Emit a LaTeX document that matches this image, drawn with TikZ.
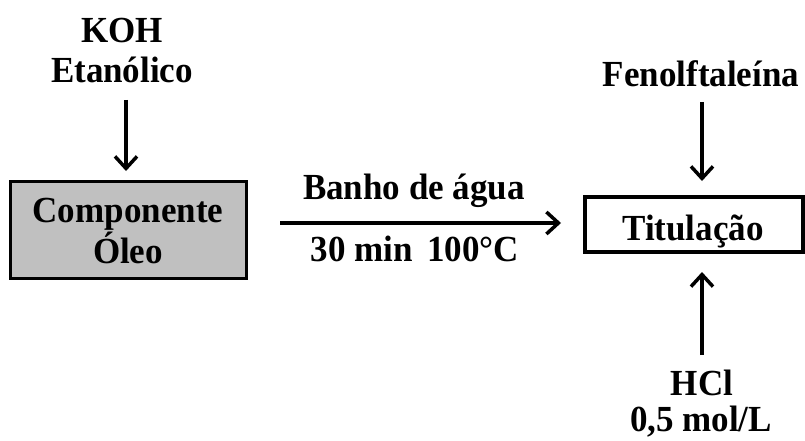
\documentclass[tikz,border=0pt]{standalone}
\usepackage{fontspec}
\setmainfont{Liberation Serif}
\usetikzlibrary{arrows.meta}
\newcommand{\tallt}[1]{\scalebox{1}[1.05]{#1}}
\begin{document}
\begin{tikzpicture}[x=1pt,y=-1pt,
  lbl/.style={font=\fontsize{35}{40}\selectfont\bfseries, inner sep=0pt, anchor=base},
  arr/.style={line width=3.5pt, -{Straight Barb[length=12pt,width=22pt,line width=3.5pt]}},
  box/.style={draw, line width=3.5pt, inner sep=0pt}]
\useasboundingbox (0,0) rectangle (805,441);
\node[lbl] (koh) at (122,43) {\tallt{KOH}};
\node[lbl] (eta) at (122,83) {\tallt{Etanólico}};
\node[box, fill={rgb,255:red,192;green,192;blue,192}, minimum width=236pt, minimum height=97pt] (comp) at (128.5,230) {};
\node[lbl] (c1) at (128,222) {\tallt{Componente}};
\node[lbl] (c2) at (128,263) {\tallt{Óleo}};
\node[box, minimum width=218pt, minimum height=55pt] (tit) at (694,224.5) {};
\node[lbl] (titl) at (693,240) {\tallt{Titulação}};
\node[lbl] (fen) at (701,87) {\tallt{Fenolftaleína}};
\node[lbl] (hcl) at (702,395) {\tallt{HCl}};
\node[lbl] (mol) at (701,431) {\tallt{0,5 mol/L}};
\node[lbl] (banho) at (414,199) {\tallt{Banho de água}};
\node[lbl] (time) at (415,261) {\tallt{30 min\,\ 100°C}};
\coordinate (a1s) at (126,100);
\coordinate (a1e) at (126,171);
\draw[arr] (a1s) -- (a1e);
\coordinate (a2s) at (280,223);
\coordinate (a2e) at (561,223);
\draw[arr] (a2s) -- (a2e);
\coordinate (a3s) at (702,102);
\coordinate (a3e) at (702,181);
\draw[arr] (a3s) -- (a3e);
\coordinate (a4s) at (702,355);
\coordinate (a4e) at (702,272);
\draw[arr] (a4s) -- (a4e);
\end{tikzpicture}
\end{document}
